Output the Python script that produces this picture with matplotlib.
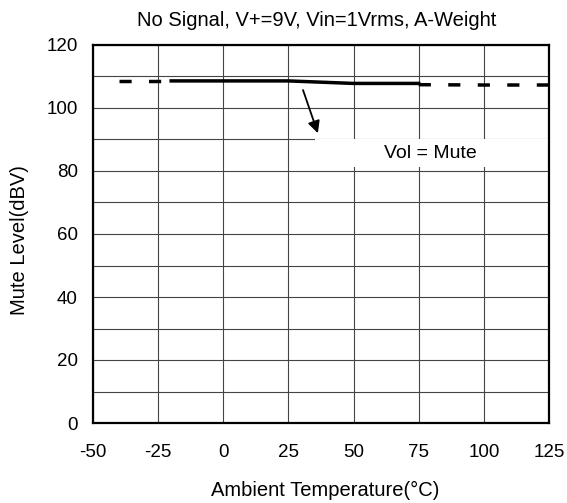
import matplotlib
matplotlib.use("Agg")
import matplotlib.pyplot as plt
import matplotlib.patches as mpatches

plt.rcParams['font.family'] = ['Liberation Sans', 'DejaVu Sans']
plt.rcParams['axes.unicode_minus'] = False

# data
temp_solid = [-20, 0, 25, 50, 75]
level_solid = [108.6, 108.6, 108.6, 107.8, 107.8]
temp_dash_left = [-40, -20]
level_dash_left = [108.6, 108.6]
temp_dash_right = [75, 100, 125]
level_dash_right = [107.4, 107.3, 107.3]
xticks = [-50, -25, 0, 25, 50, 75, 100, 125]
yticks = [0, 20, 40, 60, 80, 100, 120]
title = "No Signal, V+=9V, Vin=1Vrms, A-Weight"
label_text = "Vol = Mute"

W, H = 567, 503
fig = plt.figure(figsize=(W/100, H/100), dpi=100)
ax = fig.add_axes([93/W, 1-423/H, (549-93)/W, (423-45)/H])

ax.set_xlim(-50, 125)
ax.set_ylim(0, 120)
ax.set_xticks(xticks)
ax.set_xticklabels([str(v) for v in xticks])
ax.set_yticks(yticks)
ax.set_yticks(range(0, 121, 10), minor=True)
ax.grid(True, which='both', color='#444444', linewidth=0.8)
ax.tick_params(axis='both', which='both', length=0, labelsize=13.5)
ax.tick_params(axis='x', pad=15)
ax.tick_params(axis='y', pad=11)
for s in ax.spines.values():
    s.set_linewidth(1.6)
    s.set_zorder(5)

ax.plot(temp_solid, level_solid, color='black', linewidth=2.5, zorder=4)
ax.plot(temp_dash_left, level_dash_left, color='black', linewidth=2.5,
        dashes=(3.5, 5), zorder=4)
ax.plot(temp_dash_right, level_dash_right, color='black', linewidth=2.5,
        dashes=(3.5, 5), zorder=4)

rect = mpatches.Rectangle((35.2, 81.3), 125 - 35.2, 9.0, facecolor='white',
                          edgecolor='none', zorder=3)
ax.add_patch(rect)
ax.text(79.5, 85.7, label_text, fontsize=14, ha='center', va='center', zorder=4)
ax.annotate('', xy=(36.3, 92.0), xytext=(30.6, 105.7),
            arrowprops=dict(arrowstyle='-|>', color='black', lw=1.3,
                            mutation_scale=18, shrinkA=0, shrinkB=0), zorder=4)

fig.text(317/W, 1-20/H, title, fontsize=14.5, ha='center', va='center')
fig.text(325/W, 1-490/H, "Ambient Temperature(°C)", fontsize=14.5,
         ha='center', va='center')
fig.text(20/W, 1-240/H, "Mute Level(dBV)", fontsize=14.5, rotation=90,
         ha='center', va='center')

fig.savefig("out.png", dpi=100)
